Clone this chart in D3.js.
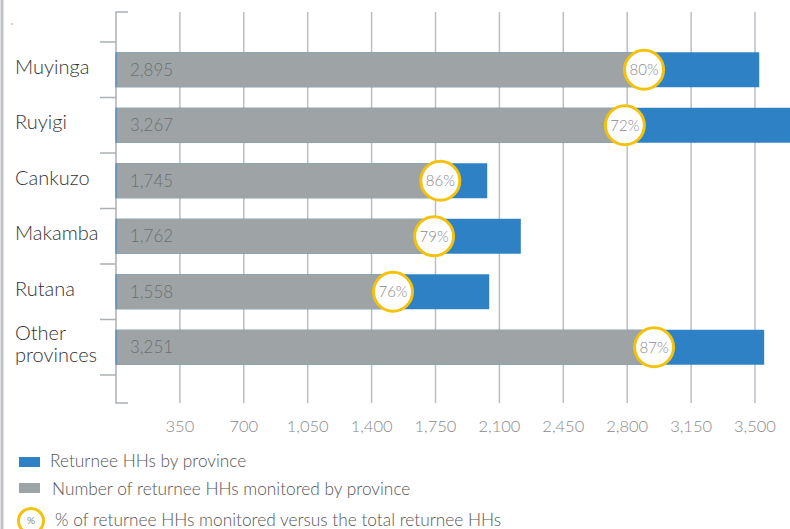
<!DOCTYPE html>
<html>
<head>
<meta charset="utf-8">
<script src="https://cdn.jsdelivr.net/npm/d3@7"></script>
<style>
  body { margin: 0; background: #fff; }
  text { font-family: Lato, "Open Sans", sans-serif; }
</style>
</head>
<body>
<div id="chart"></div>
<script>
// returnee HHs by province
var provinces = ["Muyinga", "Ruyigi", "Cankuzo", "Makamba", "Rutana", "Other provinces"];
var totals = [3526, 4540, 2036, 2220, 2047, 3553];
var monitored = [2895, 3267, 1745, 1762, 1558, 3251];      // printed labels
var monitoredBar = [2895, 2790, 1779, 1745, 1520, 2950];   // grey bar length as drawn
var pct = [80, 72, 86, 79, 76, 87];
var tickVals = [350, 700, 1050, 1400, 1750, 2100, 2450, 2800, 3150, 3500];

var legendLabels = ["Returnee HHs by province",
                    "Number of returnee HHs monitored by province",
                    "% of returnee HHs monitored versus the total returnee HHs"];

var blue = "#2e81c5", grey = "#9ea4a6", yellow = "#f4c20d", gridCol = "#b9bfc4";

var W = 790, H = 529;
var svg = d3.select("#chart").append("svg")
    .attr("width", W)
    .attr("height", H);

var x = d3.scaleLinear().domain([0, 3500]).range([115.5, 754.5]);
var y = d3.scaleBand().domain(provinces).range([42, 375]).paddingInner(0.37).paddingOuter(0.185);

// left frame line
svg.append("line")
    .attr("x1", 2).attr("x2", 2).attr("y1", 0).attr("y2", H)
    .style("stroke", "#bfc3c6").style("stroke-width", 3);
svg.append("circle").attr("cx", 12).attr("cy", 24).attr("r", 0.8).style("fill", "#999");

// gridlines + tick labels
var gx = svg.append("g")
    .attr("transform", "translate(0,403)")
    .call(d3.axisBottom(x).tickValues(tickVals).tickSize(-391).tickSizeOuter(0)
          .tickFormat(d3.format(",")));
gx.select(".domain").remove();
gx.selectAll(".tick line").style("stroke", gridCol).style("stroke-width", 1.5);
gx.selectAll(".tick text")
    .attr("y", 17)
    .style("font-size", "16.5px")
    .style("font-weight", 300)
    .attr("fill", "#8a8a8a");

// left axis
svg.append("path")
    .attr("d", "M128,12H116V403H128")
    .style("fill", "none").style("stroke", "#aab0b5").style("stroke-width", 1.5);
var bounds = provinces.map(function(p) { return y(p) - y.step() * y.paddingInner() / 2; });
bounds.push(375);
svg.selectAll(".ytick").data(bounds).enter().append("line")
    .attr("x1", 100).attr("x2", 116)
    .attr("y1", function(d) { return d; }).attr("y2", function(d) { return d; })
    .style("stroke", "#aab0b5").style("stroke-width", 1.5);

// bars
var rows = provinces.map(function(p, i) {
    return { name: p, total: totals[i], mon: monitored[i], bar: monitoredBar[i], pct: pct[i] };
});

svg.selectAll(".tot").data(rows).enter().append("rect")
    .attr("x", x(0))
    .attr("y", function(d) { return y(d.name); })
    .attr("width", function(d) { return x(d.total) - x(0); })
    .attr("height", y.bandwidth())
    .attr("fill", blue);

svg.selectAll(".mon").data(rows).enter().append("rect")
    .attr("x", x(0) + 1)
    .attr("y", function(d) { return y(d.name); })
    .attr("width", function(d) { return x(d.bar) - x(0) - 1; })
    .attr("height", y.bandwidth())
    .attr("fill", grey);

svg.selectAll(".val").data(rows).enter().append("text")
    .attr("x", 130)
    .attr("y", function(d) { return y(d.name) + y.bandwidth() / 2; })
    .attr("dy", "0.35em")
    .text(function(d) { return d3.format(",")(d.mon); })
    .style("font-size", "17px")
    .style("font-weight", 300)
    .attr("fill", "#6e6e6e");

// percentage circles
svg.selectAll(".pc").data(rows).enter().append("circle")
    .attr("cx", function(d) { return x(d.bar); })
    .attr("cy", function(d) { return y(d.name) + y.bandwidth() / 2; })
    .attr("r", 19.5)
    .style("fill", "#fff")
    .style("stroke", yellow)
    .style("stroke-width", 3);

svg.selectAll(".pt").data(rows).enter().append("text")
    .attr("x", function(d) { return x(d.bar); })
    .attr("y", function(d) { return y(d.name) + y.bandwidth() / 2; })
    .attr("dy", "0.35em")
    .attr("text-anchor", "middle")
    .text(function(d) { return d.pct + "%"; })
    .style("font-size", "15px")
    .style("font-weight", 300)
    .attr("fill", "#8a8a8a");

// category labels
svg.selectAll(".cat").data(rows).enter().append("text")
    .attr("x", 15)
    .attr("y", function(d) { return y(d.name) + y.bandwidth() / 2 - 3; })
    .style("font-size", "20px")
    .style("font-weight", 300)
    .attr("fill", "#333")
    .each(function(d) {
        var words = d.name.split(" ");
        var t = d3.select(this);
        if (words.length == 1) {
            t.append("tspan").attr("x", 15).attr("dy", "0.35em").text(d.name);
        } else {
            t.append("tspan").attr("x", 15).attr("dy", "-0.2em").text(words[0]);
            t.append("tspan").attr("x", 15).attr("dy", "1.1em").text(words[1]);
        }
    });

// legend
svg.append("rect").attr("x", 19).attr("y", 457).attr("width", 21).attr("height", 10).attr("fill", blue);
svg.append("rect").attr("x", 19).attr("y", 483).attr("width", 21).attr("height", 10).attr("fill", grey);
svg.append("circle").attr("cx", 31).attr("cy", 521).attr("r", 12.5)
    .style("fill", "#fff").style("stroke", yellow).style("stroke-width", 3);
svg.append("text").attr("x", 31).attr("y", 520).attr("dy", "0.35em")
    .attr("text-anchor", "middle").text("%")
    .style("font-size", "10px").attr("fill", "#888");

var legX = [50, 52, 55], legY = [461, 489, 520];
for (var i = 0; i < 3; i++) {
    svg.append("text")
        .attr("x", legX[i])
        .attr("y", legY[i])
        .attr("dy", "0.35em")
        .text(legendLabels[i])
        .style("font-size", "17.3px")
        .style("font-weight", 300)
        .attr("fill", "#555");
}
</script>
</body>
</html>
